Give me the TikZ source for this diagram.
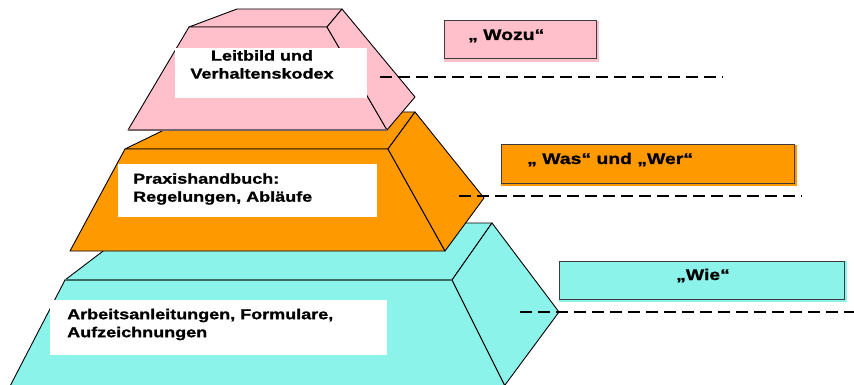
\documentclass[tikz,border=0pt]{standalone}
\usepackage{fontspec}
\setmainfont{Liberation Sans}
\newfontfamily\widesans[FakeStretch=1.25,FakeBold=1]{Liberation Sans Bold}

\definecolor{levelpink}{RGB}{255,192,203}
\definecolor{levelorange}{RGB}{255,153,0}
\definecolor{levelcyan}{RGB}{140,243,234}
\definecolor{edgeteal}{RGB}{60,110,105}
\definecolor{edgegrey}{RGB}{120,100,105}
\definecolor{boxedge}{RGB}{60,60,60}

\begin{document}
\begin{tikzpicture}[x=1pt,y=-1pt,
  face/.style={draw=black,line width=0.9pt,line join=round},
  labelfont/.style={font=\widesans\fontsize{14.4}{18}\selectfont,inner sep=0pt},
  tagfont/.style={font=\widesans\fontsize{15.5}{18}\selectfont,inner sep=0pt},
  tagedge/.style={draw=boxedge,line width=1pt},
  guide/.style={draw=black,line width=2.2pt,dash pattern=on 12pt off 6pt}]
\useasboundingbox (0,0) rectangle (854,385);
\clip (0,0) rectangle (854,385);

% ---- bottom level (cyan) ----
\path[face,fill=levelcyan] (65,280) -- (140,223) -- (492,223) -- (452,280) -- cycle;
\path[face,fill=levelcyan] (65,280) -- (452,280) -- (508,392) -- (7,392) -- cycle;
\path[face,fill=levelcyan] (452,280) -- (492,223) -- (559,312) -- (505,385) -- (508,392) -- cycle;
\draw[edgeteal,line width=1.6pt] (65,280) -- (452,280);

% ---- middle level (orange) ----
\path[face,fill=levelorange] (125,149) -- (201,112) -- (415,112) -- (388,149) -- cycle;
\path[face,fill=levelorange] (125,149) -- (388,149) -- (445,251) -- (70,251) -- cycle;
\path[face,fill=levelorange] (388,149) -- (415,112) -- (484,198) -- (445,251) -- cycle;

% ---- top level (pink) ----
\path[face,fill=levelpink] (189,27) -- (237,9) -- (342,9) -- (327,27) -- cycle;
\path[face,fill=levelpink] (189,27) -- (327,27) -- (387,130) -- (128,130) -- cycle;
\path[face,fill=levelpink] (327,27) -- (342,9) -- (415,97) -- (387,130) -- cycle;
\draw[edgegrey,line width=1.2pt] (128,130) -- (387,130);

% ---- white label panels on the front faces ----
\fill[white] (175,48) rectangle (367,98);
\fill[white] (118,164) rectangle (377,217);
\fill[white] (50,300) rectangle (387,355);

\node[labelfont,align=center] (leitbild) at (262,64.5) {Leitbild und\\Verhaltenskodex};
\node[labelfont,align=left,anchor=west] (praxis) at (133,189) {Praxishandbuch:\\Regelungen, Abläufe};
\node[labelfont,align=left,anchor=west] (arbeit) at (67,324.5) {Arbeitsanleitungen, Formulare,\\Aufzeichnungen};

% ---- guide lines from each level ----
\coordinate (g1a) at (380,77);  \coordinate (g1b) at (723,77);
\coordinate (g2a) at (459,196); \coordinate (g2b) at (802,196);
\coordinate (g3a) at (520,312); \coordinate (g3b) at (860,312);
\draw[guide] (g1a) -- (g1b);
\draw[guide] (g2a) -- (g2b);
\draw[guide] (g3a) -- (g3b);

% ---- question tags ----
\fill[levelpink] (444,21) rectangle (599,62);
\draw[tagedge] (444,21) rectangle (596,59);
\node[tagfont,anchor=base west] (wozu) at (468,40) {„ Wozu“};

\fill[levelorange] (501,145) rectangle (797,186);
\draw[tagedge] (501,145) rectangle (794,183);
\node[tagfont,anchor=base west] (waswer) at (527,164) {„ Was“ und „Wer“};

\fill[levelcyan] (559,261) rectangle (847,302);
\draw[tagedge] (559,261) rectangle (844,299);
\node[tagfont,anchor=base] (wie) at (703,280) {„Wie“};
\end{tikzpicture}
\end{document}
